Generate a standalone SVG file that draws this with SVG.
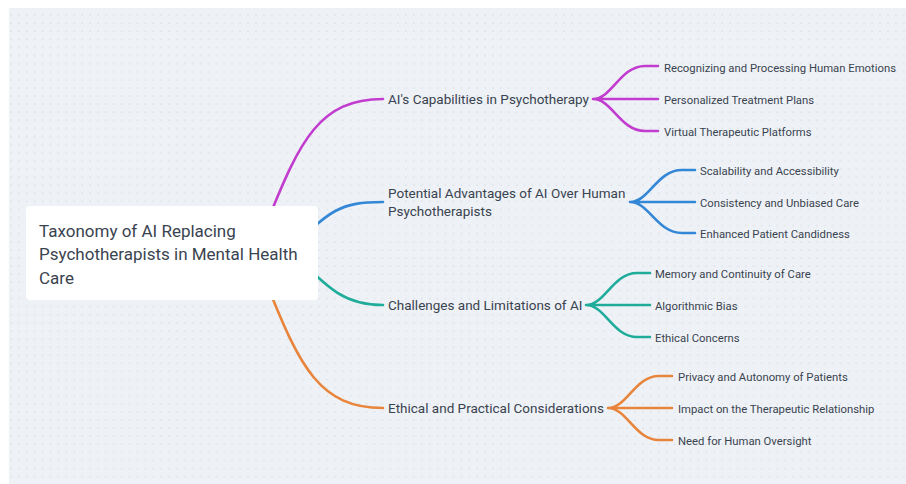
<svg xmlns="http://www.w3.org/2000/svg" width="906" height="484" viewBox="0 0 906 484">
<defs>
<pattern id="dots" x="10" y="14" width="7.9" height="8.1" patternUnits="userSpaceOnUse">
<rect x="0.5" y="0.5" width="1.1" height="1.1" fill="#cdd3db"/>
</pattern>
<style>
.l1{font-family:Roboto,"Liberation Sans",sans-serif;font-size:13.5px;fill:#3a4350}
.l2{font-family:Roboto,"Liberation Sans",sans-serif;font-size:11.3px;fill:#3a4350}
.root{font-family:Roboto,"Liberation Sans",sans-serif;font-size:17px;fill:#3a4350}
.c{fill:none;stroke-width:2.6;stroke-linecap:round}
.p{stroke:#c13ccf}.b{stroke:#3487d6}.t{stroke:#20ac9a}.o{stroke:#e8843b}
</style>
</defs>
<rect x="0" y="0" width="906" height="484" fill="#ffffff"/>
<rect x="9" y="8" width="897" height="476" fill="#eef2f6"/>
<rect x="9" y="8" width="897" height="476" fill="url(#dots)"/>
<g id="connectors">
<path class="c p" d="M268,220 C300,140 320,99 383,99"/>
<path class="c b" d="M290,250 C330,210 340,202 383,202"/>
<path class="c t" d="M295,255 C330,290 345,305 383,305"/>
<path class="c o" d="M268,287 C300,367 320,408 383,408"/>
<path class="c p" d="M593,99 C612,99 620,66 645,66 L658,66 M593,99 L658,99 M593,99 C612,99 620,131 645,131 L658,131"/>
<path class="c b" d="M630,202 C649,202 657,170 682,170 L695,170 M630,202 L695,202 M630,202 C649,202 657,233 682,233 L695,233"/>
<path class="c t" d="M586,305 C605,305 613,273 637,273 L650,273 M586,305 L650,305 M586,305 C605,305 613,337 637,337 L650,337"/>
<path class="c o" d="M608,408 C627,408 635,376 659,376 L672,376 M608,408 L672,408 M608,408 C627,408 635,440 659,440 L672,440"/>
</g>
<g id="root">
<rect x="26" y="206" width="292" height="94" rx="4" fill="#ffffff"/>
<text class="root" x="39" y="236.5">Taxonomy of AI Replacing</text>
<text class="root" x="39" y="260">Psychotherapists in Mental Health</text>
<text class="root" x="39" y="283.5">Care</text>
</g>
<g id="n1"><text class="l1" x="388" y="104">AI's Capabilities in Psychotherapy</text></g>
<g id="n2"><text class="l1" x="388" y="197.5">Potential Advantages of AI Over Human</text><text class="l1" x="388" y="216">Psychotherapists</text></g>
<g id="n3"><text class="l1" x="388" y="310">Challenges and Limitations of AI</text></g>
<g id="n4"><text class="l1" x="388" y="413">Ethical and Practical Considerations</text></g>
<g id="n1a"><text class="l2" x="664" y="71.5">Recognizing and Processing Human Emotions</text></g>
<g id="n1b"><text class="l2" x="664" y="103.5">Personalized Treatment Plans</text></g>
<g id="n1c"><text class="l2" x="664" y="135.5">Virtual Therapeutic Platforms</text></g>
<g id="n2a"><text class="l2" x="700" y="174.5">Scalability and Accessibility</text></g>
<g id="n2b"><text class="l2" x="700" y="206.5">Consistency and Unbiased Care</text></g>
<g id="n2c"><text class="l2" x="700" y="237.5">Enhanced Patient Candidness</text></g>
<g id="n3a"><text class="l2" x="655" y="277.5">Memory and Continuity of Care</text></g>
<g id="n3b"><text class="l2" x="655" y="309.5">Algorithmic Bias</text></g>
<g id="n3c"><text class="l2" x="655" y="341.5">Ethical Concerns</text></g>
<g id="n4a"><text class="l2" x="678" y="380.5">Privacy and Autonomy of Patients</text></g>
<g id="n4b"><text class="l2" x="678" y="412.5">Impact on the Therapeutic Relationship</text></g>
<g id="n4c"><text class="l2" x="678" y="444.5">Need for Human Oversight</text></g>
</svg>
